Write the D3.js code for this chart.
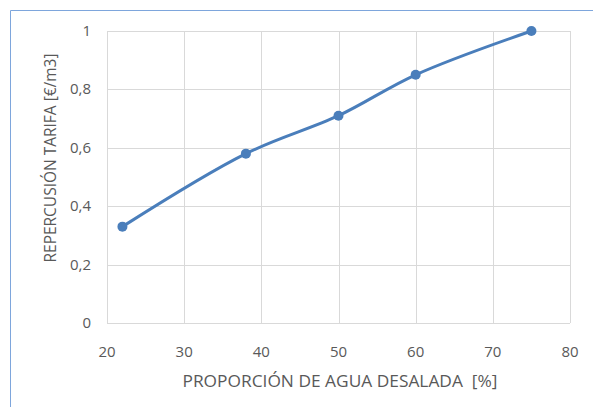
<!DOCTYPE html>
<html>
<head>
<meta charset="utf-8">
<script src="https://cdn.jsdelivr.net/npm/d3@7/dist/d3.min.js"></script>
<style>
	body { margin: 0; background: #fff; }
	text { font-family: "Open Sans", "Liberation Sans", sans-serif; fill: #595959; white-space: pre; }
</style>
</head>
<body>
<div id="chart"></div>
<script>
var proporcion = [22, 38, 50, 60, 75];
var repercusion = [0.33, 0.58, 0.71, 0.85, 1.0];
var xTicks = [20, 30, 40, 50, 60, 70, 80];
var yTicks = [0, 0.2, 0.4, 0.6, 0.8, 1];
var xTitle = "PROPORCIÓN DE AGUA DESALADA  [%]";
var yTitle = "REPERCUSIÓN TARIFA [€/m3]";

var width = 593, height = 407;
var svg = d3.select("#chart").append("svg")
		.attr("width", width).attr("height", height);

// chart border
svg.append("path")
	.attr("d", "M10.5," + height + "V10.5H" + width)
	.attr("fill", "none")
	.attr("stroke", "#7ea6dc")
	.attr("stroke-width", 1);

var x = d3.scaleLinear().domain([20, 80]).range([107, 570]);
var y = d3.scaleLinear().domain([0, 1]).range([323, 31]);

var fmt = function(d) { return d3.format("~g")(d).replace(".", ","); };

// grid
svg.append("g").selectAll("line").data(xTicks).enter().append("line")
	.attr("x1", function(d) { return Math.round(x(d)) + 0.5; })
	.attr("x2", function(d) { return Math.round(x(d)) + 0.5; })
	.attr("y1", y(0)).attr("y2", y(1))
	.attr("stroke", "#d9d9d9");
svg.append("g").selectAll("line").data(yTicks).enter().append("line")
	.attr("y1", function(d) { return Math.round(y(d)) + 0.5; })
	.attr("y2", function(d) { return Math.round(y(d)) + 0.5; })
	.attr("x1", x(20)).attr("x2", x(80))
	.attr("stroke", "#d9d9d9");

// tick labels
svg.append("g").selectAll("text").data(yTicks).enter().append("text")
	.attr("x", 91)
	.attr("y", function(d) { return y(d) + 5; })
	.attr("text-anchor", "end")
	.attr("font-size", 15)
	.text(fmt);
svg.append("g").selectAll("text").data(xTicks).enter().append("text")
	.attr("x", function(d) { return x(d); })
	.attr("y", 357)
	.attr("text-anchor", "middle")
	.attr("font-size", 15)
	.text(fmt);

// axis titles
svg.append("text")
	.attr("x", 340).attr("y", 387)
	.attr("text-anchor", "middle")
	.attr("font-size", 16.5)
	.attr("textLength", 315)
	.attr("lengthAdjust", "spacingAndGlyphs")
	.text(xTitle);
svg.append("text")
	.attr("transform", "translate(56,158) rotate(-90)")
	.attr("text-anchor", "middle")
	.attr("font-size", 16.5)
	.attr("textLength", 209)
	.attr("lengthAdjust", "spacingAndGlyphs")
	.text(yTitle);

// series
var pts = proporcion.map(function(d, i) { return [d, repercusion[i]]; });
var line = d3.line()
	.x(function(d) { return x(d[0]); })
	.y(function(d) { return y(d[1]); })
	.curve(d3.curveCatmullRom.alpha(0.5));
svg.append("path")
	.datum(pts)
	.attr("d", line)
	.attr("fill", "none")
	.attr("stroke", "#4a7ebb")
	.attr("stroke-width", 3);
svg.append("g").selectAll("circle").data(pts).enter().append("circle")
	.attr("cx", function(d) { return x(d[0]); })
	.attr("cy", function(d) { return y(d[1]); })
	.attr("r", 5)
	.attr("fill", "#4a7ebb");
</script>
</body>
</html>
